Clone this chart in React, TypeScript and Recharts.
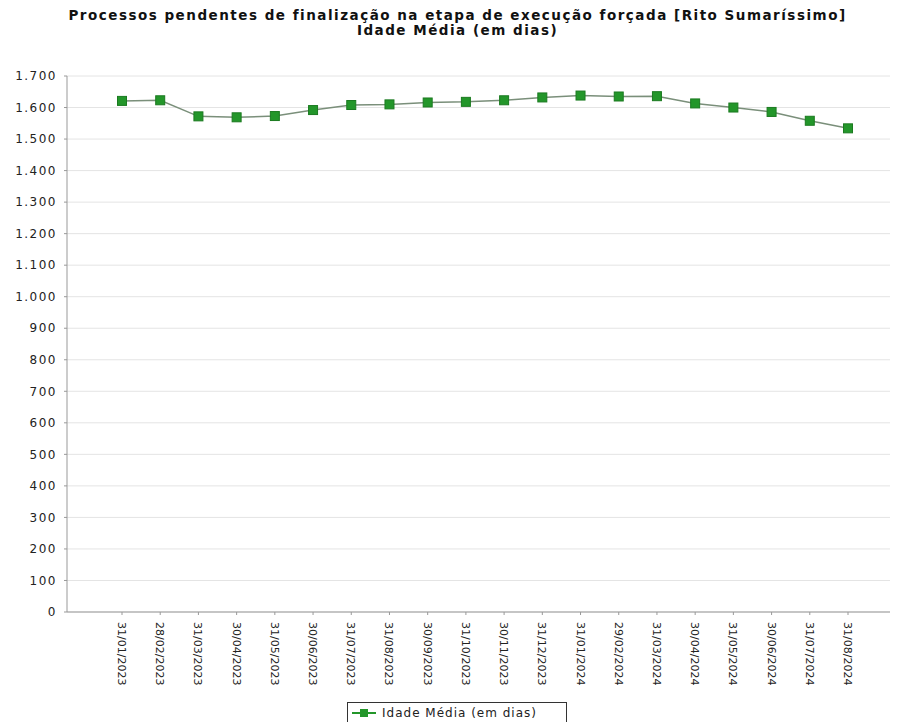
import { LineChart, Line, XAxis, YAxis, CartesianGrid, Legend } from "recharts";

const dates = [
  "31/01/2023", "28/02/2023", "31/03/2023", "30/04/2023", "31/05/2023",
  "30/06/2023", "31/07/2023", "31/08/2023", "30/09/2023", "31/10/2023",
  "30/11/2023", "31/12/2023", "31/01/2024", "29/02/2024", "31/03/2024",
  "30/04/2024", "31/05/2024", "30/06/2024", "31/07/2024", "31/08/2024",
];

const idadeMedia = [
  1621, 1623, 1572, 1569, 1573, 1592, 1608, 1610, 1616, 1618,
  1623, 1632, 1638, 1635, 1636, 1613, 1600, 1586, 1558, 1534,
];

const yTicks = [
  0, 100, 200, 300, 400, 500, 600, 700, 800, 900,
  1000, 1100, 1200, 1300, 1400, 1500, 1600, 1700,
];

const SERIES_NAME = "Idade Média (em dias)";
const GREEN = "#23962a";
const FONT = "'DejaVu Sans', Verdana, sans-serif";

const data = dates.map((d, i) => ({ date: d, value: idadeMedia[i] }));

const fmt = (v: number) => v.toLocaleString("pt-BR").replace(/\s/g, "");

function SquareDot(props: any) {
  const { cx, cy } = props;
  if (cx == null || cy == null) return null;
  return <rect x={cx - 4.5} y={cy - 4.5} width={9} height={9} fill={GREEN} stroke="#1b7a20" strokeWidth={1} />;
}

function XTick(props: any) {
  const { x, y, payload } = props;
  return (
    <text x={x} y={y} transform={`rotate(90, ${x}, ${y})`} dx={5} dy={4}
      textAnchor="start" fontSize={11} fill="#222" fontFamily={FONT}>
      {payload.value}
    </text>
  );
}

function LegendBox() {
  return (
    <div style={{ position: "relative", height: 20 }}>
      <div style={{
        position: "absolute", left: 347, top: 0, width: 220, height: 22, boxSizing: "border-box",
        border: "1px solid #333", display: "flex", alignItems: "center", paddingLeft: 4,
        fontSize: 12, letterSpacing: 1, color: "#222", fontFamily: FONT,
      }}>
        <svg width={24} height={10} style={{ marginRight: 6 }}>
          <line x1={0} y1={5} x2={24} y2={5} stroke={GREEN} strokeWidth={2} />
          <rect x={8} y={1} width={8} height={8} fill={GREEN} />
        </svg>
        {SERIES_NAME}
      </div>
    </div>
  );
}

export default function App() {
  return (
    <div style={{ position: "absolute", left: 0, top: 0, width: 897, height: 722, background: "#fff", overflow: "hidden" }}>
      <div style={{
        position: "absolute", left: 0, top: 8, width: 915, textAlign: "center",
        fontFamily: FONT, fontWeight: "bold", fontSize: 13.5, letterSpacing: 1.5,
        lineHeight: "15px", color: "#111",
      }}>
        <div>Processos pendentes de finalização na etapa de execução forçada [Rito Sumaríssimo]</div>
        <div>Idade Média (em dias)</div>
      </div>
      <LineChart width={897} height={722} data={data}
        margin={{ top: 76, right: 7, bottom: 0, left: 0 }}>
        <CartesianGrid vertical={false} stroke="#e4e4e4" />
        <XAxis dataKey="date" interval={0} tick={<XTick />} height={90}
          padding={{ left: 55, right: 42 }} stroke="#999" tickSize={3} />
        <YAxis domain={[0, 1700]} ticks={yTicks} tickFormatter={fmt} width={67}
          stroke="#999" tickSize={3} tickMargin={7}
          tick={{ fontSize: 12, fill: "#222", fontFamily: FONT, letterSpacing: 1.5 }} />
        <Legend content={<LegendBox />} verticalAlign="bottom" />
        <Line dataKey="value" name={SERIES_NAME} stroke="#7a8f7a" strokeWidth={1.5}
          dot={<SquareDot />} isAnimationActive={false} />
      </LineChart>
    </div>
  );
}
